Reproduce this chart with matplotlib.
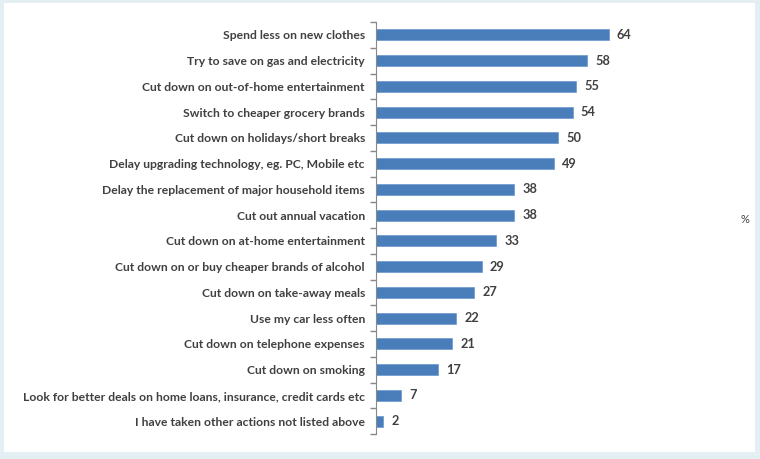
import matplotlib
matplotlib.use("Agg")
import matplotlib.pyplot as plt

actions = [
    "Spend less on new clothes",
    "Try to save on gas and electricity",
    "Cut down on out-of-home entertainment",
    "Switch to cheaper grocery brands",
    "Cut down on holidays/short breaks",
    "Delay upgrading technology, eg. PC, Mobile etc",
    "Delay the replacement of major household items",
    "Cut out annual vacation",
    "Cut down on at-home entertainment",
    "Cut down on or buy cheaper brands of alcohol",
    "Cut down on take-away meals",
    "Use my car less often",
    "Cut down on telephone expenses",
    "Cut down on smoking",
    "Look for better deals on home loans, insurance, credit cards etc",
    "I have taken other actions not listed above",
]
percent = [64, 58, 55, 54, 50, 49, 38, 38, 33, 29, 27, 22, 21, 17, 7, 2]

text_color = "#404040"
plt.rcParams["font.family"] = ["Lato", "DejaVu Sans"]

fig = plt.figure(figsize=(7.6, 4.59), dpi=100)
fig.patch.set_facecolor("#e4eff4")

# white panel inside the light frame
bg = fig.add_axes([4 / 760, 7 / 459, 751 / 760, 449 / 459], zorder=-10)
bg.set_facecolor("white")
bg.set_xticks([])
bg.set_yticks([])
for s in bg.spines.values():
    s.set_visible(False)

ax = fig.add_axes([376 / 760, 25 / 459, 364 / 760, 412 / 459])
ax.set_facecolor("none")

pos = list(range(len(actions)))
ax.barh(pos, percent, height=0.43, color="#4a7ebb", edgecolor="#6a96cc", linewidth=0.5)
for p, v in zip(pos, percent):
    ax.text(v + 2.2, p, str(v), va="center", ha="left", fontsize=9.2,
            fontweight="bold", color=text_color)

ax.set_ylim(len(actions) - 0.5, -0.5)
ax.set_xlim(0, 100)
ax.set_yticks(pos)
ax.set_yticklabels(actions, fontsize=8.75, fontweight="bold", color=text_color)
ax.set_yticks([i - 0.5 for i in range(len(actions) + 1)], minor=True)
ax.tick_params(axis="y", which="major", length=0, pad=8)
ax.tick_params(axis="y", which="minor", length=4, color="#888888", width=1)
ax.set_xticks([])
for s in ["top", "right", "bottom"]:
    ax.spines[s].set_visible(False)
ax.spines["left"].set_color("#888888")

fig.text(745 / 760, 1 - 219 / 459, "%", fontsize=8, color=text_color,
         ha="center", va="center")

fig.savefig("out.png", dpi=100, facecolor=fig.get_facecolor())
